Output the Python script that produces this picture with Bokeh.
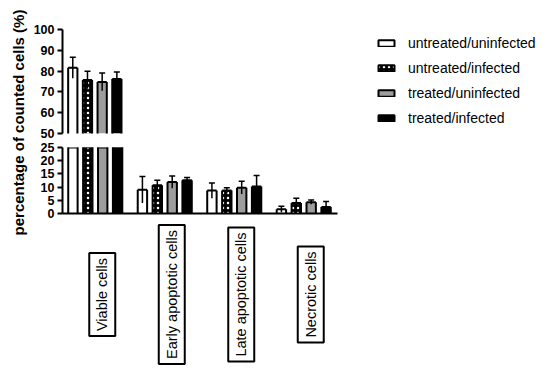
import numpy as np
from bokeh.plotting import figure
from bokeh.models import (Range1d, LinearAxis, FixedTicker, Label, Legend,
                          LegendItem, ColumnDataSource, CDSView, BooleanFilter)
from bokeh.layouts import row, column
from bokeh.embed import file_html
from bokeh.resources import INLINE

# ---------------- data ----------------
groups = ["Viable cells", "Early apoptotic cells", "Late apoptotic cells", "Necrotic cells"]
series = ["untreated/uninfected", "untreated/infected", "treated/uninfected", "treated/infected"]
viable = [81.6, 75.7, 74.8, 76.2]
viable_sd = [5.0, 4.2, 4.3, 3.4]
early = [9.0, 10.7, 11.9, 12.6]
early_sd = [5.0, 1.9, 2.3, 1.0]
late = [8.7, 8.7, 9.8, 10.2]
late_sd = [2.9, 1.1, 2.4, 4.2]
necrotic = [1.6, 4.0, 4.3, 2.5]
necrotic_sd = [1.1, 1.8, 0.8, 2.0]
top_ticks = [50, 60, 70, 80, 90, 100]
bottom_ticks = [0, 5, 10, 15, 20, 25]
top_seg = (50, 100)
bottom_seg = (0, 25)

means = np.array([viable, early, late, necrotic])      # [group, series]
sds = np.array([viable_sd, early_sd, late_sd, necrotic_sd])

# ---------------- layout constants ----------------
PX = 15.0              # pixels per x unit
GS = 70.0 / PX         # group stride in x units
X0 = -0.7
BAR_W = 0.63
FONT = "Liberation Sans"
TOTAL_H = 368
FRAME_W = 277

styles = [
    dict(fill_color="white"),
    dict(fill_color="black", hatch_pattern="dot",
         hatch_color="white", hatch_scale=5, hatch_weight=3),
    dict(fill_color="#9d9d9d"),
    dict(fill_color="black"),
]

sources = []
for s in range(len(series)):
    xs = np.array([g * GS + s for g in range(len(groups))])
    m = means[:, s]
    d = sds[:, s]
    sources.append(ColumnDataSource(dict(x=xs, xl=xs - BAR_W / 2, xr=xs + BAR_W / 2,
                                         top=m, lower=m - d, upper=m + d)))


def style_axis(ax):
    ax.axis_line_width = 2
    ax.axis_line_color = "black"
    ax.major_tick_line_width = 2
    ax.major_tick_line_color = "black"
    ax.major_tick_out = 5
    ax.major_tick_in = 0
    ax.minor_tick_line_color = None
    ax.major_label_text_font = FONT
    ax.major_label_text_font_style = "bold"
    ax.major_label_text_font_size = "12.5px"
    ax.major_label_text_color = "black"
    ax.major_label_standoff = 3


def draw(p, lo):
    legend_rends = []
    for s in range(len(series)):
        src = sources[s]
        view = CDSView(filter=BooleanFilter([bool(v > lo) for v in means[:, s]]))
        p.vbar(x="x", top="top", bottom=0, width=BAR_W, source=src, view=view,
               line_color=None, **styles[s])
        # outline: two sides and the top edge (a broken axis leaves the bar open)
        for col in ("xl", "xr"):
            p.segment(x0=col, x1=col, y0=0, y1="top", source=src, view=view,
                      line_color="black", line_width=2)
        # zero-height bar at the top: draws the top edge and serves as legend swatch
        legend_rends.append(p.vbar(x="x", top="top", bottom="top", width=BAR_W, source=src,
                                   view=view, line_color="black", line_width=2, **styles[s]))
        # error bars
        p.segment(x0="x", x1="x", y0="lower", y1="upper", source=src, view=view,
                  line_color="black", line_width=1.5)
        p.scatter(x="x", y="upper", source=src, view=view, marker="dash", size=6,
                  line_color="black", line_width=1.5)
    return legend_rends


def bare(p):
    p.outline_line_color = None
    p.grid.visible = False


# ---------------- top segment (50-100) ----------------
top_w, top_h = 518, 140
top = figure(width=top_w, height=top_h, title=None,
             x_range=Range1d(X0, X0 + (top_w - 30) / PX), y_range=Range1d(*top_seg),
             x_axis_location=None, y_axis_location=None,
             output_backend="svg", toolbar_location=None,
             min_border_left=30, min_border_right=0, min_border_top=29, min_border_bottom=7)
bare(top)
ya = LinearAxis(ticker=FixedTicker(ticks=top_ticks))
style_axis(ya)
top.add_layout(ya, "left")
rends = draw(top, top_seg[0])
legend = Legend(items=[LegendItem(label=series[s], renderers=[rends[s]]) for s in range(len(series))],
                location=(314, 7), padding=0, margin=0, spacing=9,
                glyph_width=20, glyph_height=8, label_height=15, label_standoff=12,
                label_text_font=FONT, label_text_font_size="14px", label_text_color="black",
                border_line_color=None, background_fill_alpha=0)
top.add_layout(legend, "center")

# ---------------- bottom segment (0-25) ----------------
bot_w, bot_h = 30 + FRAME_W + 8, 83
bot = figure(width=bot_w, height=bot_h, title=None,
             x_range=Range1d(X0, X0 + FRAME_W / PX), y_range=Range1d(*bottom_seg),
             x_axis_location=None, y_axis_location=None,
             output_backend="svg", toolbar_location=None,
             min_border_left=30, min_border_right=8, min_border_top=7, min_border_bottom=10)
bare(bot)
yb = LinearAxis(ticker=FixedTicker(ticks=bottom_ticks))
style_axis(yb)
bot.add_layout(yb, "left")
xb = LinearAxis(ticker=FixedTicker(ticks=[]))
xb.axis_line_width = 2
xb.axis_line_color = "black"
xb.major_tick_line_color = None
xb.major_tick_out = 0
xb.minor_tick_line_color = None
xb.major_label_text_font_size = "0px"
xb.major_label_standoff = 0
bot.add_layout(xb, "below")
draw(bot, -1)

# ---------------- category label boxes ----------------
lab_h = TOTAL_H - top_h - bot_h
cat = figure(width=bot_w, height=lab_h, title=None,
             x_range=Range1d(X0, X0 + FRAME_W / PX), y_range=Range1d(0, 1),
             x_axis_location=None, y_axis_location=None,
             output_backend="svg", toolbar_location=None,
             min_border_left=30, min_border_right=8, min_border_top=0, min_border_bottom=0)
bare(cat)
cat.scatter(x=[X0], y=[0], alpha=0)
for g, name in enumerate(groups):
    cat.add_layout(Label(x=g * GS + 1.5 + 0.47, y=1 - 71 / lab_h, text=name,
                         angle=90, angle_units="deg", text_align="center",
                         text_baseline="middle", text_font=FONT, text_font_size="14.5px",
                         text_color="black", border_line_color="black",
                         border_line_width=2, background_fill_color="white", padding=5))

# ---------------- y label strip ----------------
lab = figure(width=30, height=TOTAL_H, title=None, x_range=Range1d(0, 1), y_range=Range1d(0, 1),
             x_axis_location=None, y_axis_location=None, min_border=0,
             output_backend="svg", toolbar_location=None)
bare(lab)
lab.scatter(x=[0], y=[0], alpha=0)
lab.add_layout(Label(x=0.6, y=1 - 122 / TOTAL_H, text="percentage of counted cells (%)",
                     angle=90, angle_units="deg", text_align="center", text_baseline="middle",
                     text_font=FONT, text_font_style="bold", text_font_size="15px",
                     text_color="black"))

layout = row(lab, column(top, bot, cat))
open("out.html", "w").write(file_html(layout, INLINE))
